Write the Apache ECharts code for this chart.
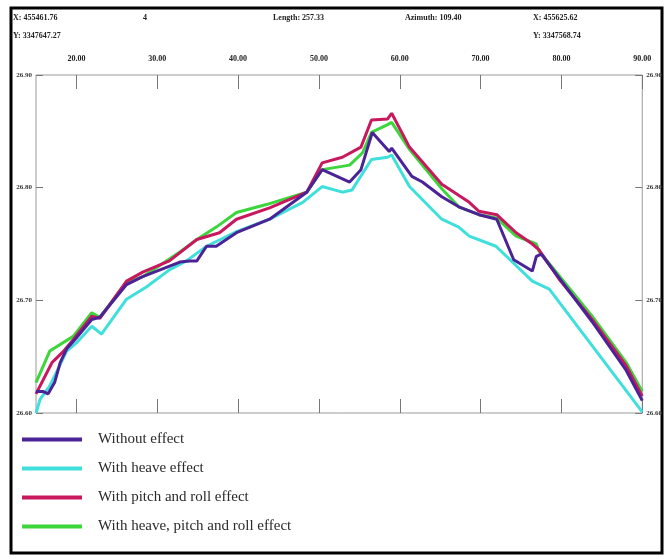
<!DOCTYPE html>
<html>
<head>
<meta charset="utf-8">
<style>
  html, body { margin: 0; padding: 0; background: #fff; }
  #chart { width: 665px; height: 559px; }
</style>
<script src="https://cdn.jsdelivr.net/npm/echarts@6/dist/echarts.min.js"></script>
</head>
<body>
<div id="chart"></div>
<script>
// profile values [distance, elevation]
const withoutEffect = [
  [15, 26.619], [15.9, 26.619], [16.5, 26.617], [17.3, 26.627], [18.0, 26.645],
  [18.8, 26.657], [19.8, 26.665], [21.9, 26.683], [22.9, 26.685], [26.2, 26.714],
  [28.2, 26.721], [32.8, 26.734], [34.0, 26.735], [34.9, 26.735], [36.1, 26.748],
  [37.3, 26.748], [39.8, 26.760], [43.9, 26.772], [48.5, 26.796], [50.4, 26.816],
  [53.8, 26.805], [55.2, 26.816], [56.6, 26.849], [58.7, 26.832], [59.0, 26.835],
  [61.5, 26.810], [62.8, 26.805], [65.2, 26.792], [67.3, 26.783], [69.8, 26.776],
  [72.0, 26.772], [74.1, 26.736], [76.4, 26.726], [76.9, 26.739], [77.5, 26.741],
  [83.8, 26.681], [88.0, 26.638], [90, 26.611]
]
const heaveEffect = [
  [15, 26.600], [15.5, 26.612], [16.7, 26.624], [18.8, 26.655], [20.1, 26.663],
  [21.9, 26.677], [23.1, 26.670], [26.2, 26.701], [28.7, 26.712], [31.5, 26.727],
  [33.6, 26.735], [36.1, 26.748], [39.8, 26.761], [43.9, 26.772], [48.0, 26.787],
  [50.4, 26.801], [52.9, 26.796], [54.1, 26.798], [56.5, 26.825], [58.5, 26.827],
  [59.0, 26.829], [61.2, 26.801], [65.2, 26.772], [67.3, 26.765], [68.6, 26.757],
  [71.9, 26.748], [76.4, 26.717], [78.5, 26.710], [90, 26.601]
]
const pitchRollEffect = [
  [15, 26.617], [17.0, 26.645], [18.3, 26.654], [19.6, 26.665], [21.9, 26.686],
  [22.9, 26.684], [26.2, 26.717], [28.2, 26.725], [31.5, 26.735], [34.9, 26.754],
  [37.7, 26.760], [39.8, 26.772], [43.9, 26.782], [48.5, 26.796], [50.4, 26.822],
  [52.9, 26.827], [55.2, 26.836], [56.5, 26.860], [58.5, 26.861], [59.0, 26.866],
  [61.2, 26.836], [65.2, 26.803], [68.6, 26.787], [69.8, 26.779], [72.0, 26.776],
  [74.4, 26.760], [76.4, 26.750], [77.2, 26.745], [79.7, 26.719], [83.8, 26.683],
  [88.0, 26.642], [90, 26.615]
]
const heavePitchRollEffect = [
  [15, 26.627], [16.7, 26.655], [19.6, 26.668], [21.9, 26.689], [22.9, 26.685],
  [26.2, 26.716], [28.2, 26.721], [32.8, 26.743], [34.9, 26.754], [37.3, 26.765],
  [39.8, 26.778], [43.5, 26.785], [48.5, 26.796], [50.4, 26.816], [53.8, 26.820],
  [55.4, 26.831], [56.5, 26.849], [58.5, 26.856], [59.0, 26.858], [61.2, 26.834],
  [65.2, 26.799], [67.3, 26.783], [69.8, 26.776], [72.0, 26.773], [74.4, 26.757],
  [76.9, 26.750], [77.2, 26.744], [83.8, 26.686], [88.0, 26.645], [90, 26.619]
]

const seriesNames = [
  'Without effect',
  'With heave effect',
  'With pitch and roll effect',
  'With heave, pitch and roll effect'
]
const xTickValues = [20, 30, 40, 50, 60, 70, 80, 90]

// header text of the profile window
const headerLeft = ['X: 455461.76', 'Y: 3347647.27']
const headerRight = ['X: 455625.62', 'Y: 3347568.74']
const headerMid = ['4', 'Length: 257.33', 'Azimuth: 109.40']

const colors = ['#4b2396', '#3fe0dc', '#c8185e', '#3cd63c']
const serif = '"Liberation Serif", "DejaVu Serif", serif'

const chart = echarts.init(document.getElementById('chart'))

const headerStyle = { fill: '#222', font: 'bold 8px ' + serif }

const option = {
  animation: false,
  color: colors,
  grid: {
    left: 36,
    right: 22,
    top: 75,
    bottom: 146,
    show: true,
    borderColor: '#9a9a9a',
    borderWidth: 1
  },
  legend: {
    data: seriesNames,
    orient: 'vertical',
    left: 17,
    top: 427,
    icon: 'rect',
    itemWidth: 60,
    itemHeight: 4,
    itemGap: 14,
    textStyle: {
      fontFamily: serif,
      fontSize: 15,
      color: '#2a2a2a',
      padding: [0, 0, 0, 11]
    }
  },
  xAxis: [
    {
      type: 'value',
      position: 'top',
      min: 15,
      max: 90,
      axisLine: { show: false },
      axisTick: {
        inside: true,
        length: 14,
        customValues: xTickValues,
        lineStyle: { color: '#777' }
      },
      axisLabel: {
        customValues: xTickValues,
        margin: 12,
        fontFamily: serif,
        fontWeight: 'bold',
        fontSize: 8,
        color: '#222',
        formatter: (v) => v.toFixed(2)
      },
      splitLine: { show: false }
    },
    {
      type: 'value',
      position: 'bottom',
      min: 15,
      max: 90,
      axisLine: { show: false },
      axisTick: {
        inside: true,
        length: 14,
        customValues: xTickValues,
        lineStyle: { color: '#777' }
      },
      axisLabel: { show: false },
      splitLine: { show: false }
    }
  ],
  yAxis: [
    {
      type: 'value',
      position: 'left',
      min: 26.6,
      max: 26.9,
      interval: 0.1,
      axisLine: { show: false },
      axisTick: { show: true, inside: true, length: 7, lineStyle: { color: '#777' } },
      axisLabel: {
        margin: 4,
        fontFamily: serif,
        fontWeight: 'bold',
        fontSize: 7,
        color: '#333',
        formatter: (v) => v.toFixed(2)
      },
      splitLine: { show: false }
    },
    {
      type: 'value',
      position: 'right',
      min: 26.6,
      max: 26.9,
      interval: 0.1,
      axisLine: { show: false },
      axisTick: { show: true, inside: true, length: 7, lineStyle: { color: '#777' } },
      axisLabel: {
        margin: 4,
        fontFamily: serif,
        fontWeight: 'bold',
        fontSize: 7,
        color: '#333',
        formatter: (v) => v.toFixed(2)
      },
      splitLine: { show: false }
    }
  ],
  series: [
    { name: seriesNames[0], type: 'line', data: withoutEffect, z: 5 },
    { name: seriesNames[1], type: 'line', data: heaveEffect, z: 2 },
    { name: seriesNames[2], type: 'line', data: pitchRollEffect, z: 4 },
    { name: seriesNames[3], type: 'line', data: heavePitchRollEffect, z: 3 }
  ].map((s) => ({
    ...s,
    xAxisIndex: 0,
    yAxisIndex: 0,
    showSymbol: false,
    symbol: 'none',
    lineStyle: { width: 3 }
  })),
  graphic: [
    // outer frame
    {
      type: 'rect',
      shape: { x: 11, y: 8, width: 651, height: 545 },
      style: { fill: 'none', stroke: '#000', lineWidth: 3 },
      silent: true
    },
    { type: 'text', left: 13, top: 14, style: { text: headerLeft[0], ...headerStyle } },
    { type: 'text', left: 13, top: 32, style: { text: headerLeft[1], ...headerStyle } },
    { type: 'text', left: 143, top: 14, style: { text: headerMid[0], ...headerStyle } },
    { type: 'text', left: 273, top: 14, style: { text: headerMid[1], ...headerStyle } },
    { type: 'text', left: 405, top: 14, style: { text: headerMid[2], ...headerStyle } },
    { type: 'text', left: 533, top: 14, style: { text: headerRight[0], ...headerStyle } },
    { type: 'text', left: 533, top: 32, style: { text: headerRight[1], ...headerStyle } }
  ]
}

chart.setOption(option)
</script>
</body>
</html>
